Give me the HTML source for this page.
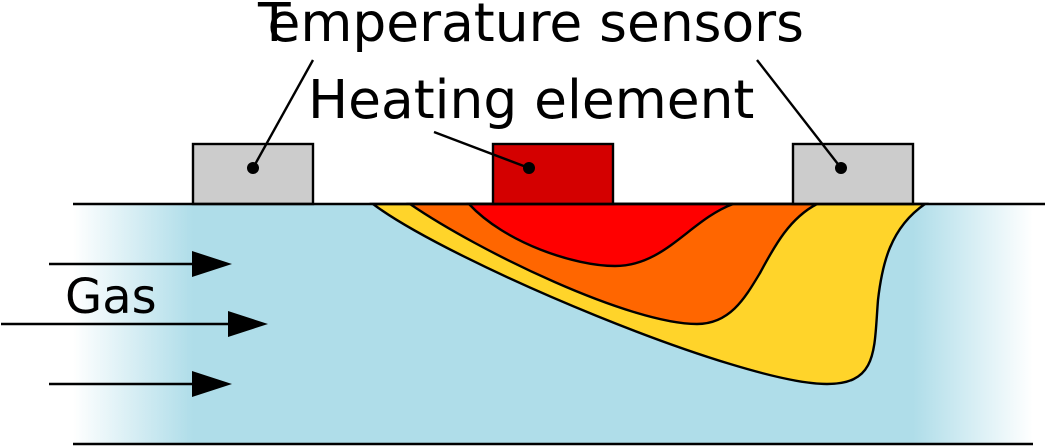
<!DOCTYPE html>
<html>
<head>
<meta charset="utf-8">
<style>
html,body{margin:0;padding:0;background:#fff;width:1045px;height:446px;overflow:hidden}
svg{display:block}
text{font-family:"DejaVu Sans",sans-serif;fill:#000}
</style>
</head>
<body>
<svg width="1045" height="446" viewBox="0 0 1045 446" xmlns="http://www.w3.org/2000/svg">
<defs>
<linearGradient id="gl" x1="0" x2="1" y1="0" y2="0"><stop offset="0" stop-color="#afdde9" stop-opacity="0"/><stop offset="1" stop-color="#afdde9"/></linearGradient>
<linearGradient id="gr" x1="0" x2="1" y1="0" y2="0"><stop offset="0" stop-color="#afdde9"/><stop offset="1" stop-color="#afdde9" stop-opacity="0"/></linearGradient>
</defs>
<rect x="73" y="204" width="120" height="240" fill="url(#gl)"/>
<rect x="193" y="204" width="720" height="240" fill="#afdde9"/>
<rect x="913" y="204" width="120" height="240" fill="url(#gr)"/>
<g stroke="#000" stroke-width="2.4">
<path d="M373,204 C450,262 740,384 827,384 C878,384 874,350 878,300 C882,265 890,228 925,204 Z" fill="#ffd42a"/>
<path d="M410,204 C480,252 630,324 697,324 C730,324 745,298 760,273 C775,245 790,218 817,204 Z" fill="#ff6600"/>
<path d="M469,204 C505,243 575,266 615,266 C665,266 690,220 733,204 Z" fill="#ff0000"/>
<rect x="193" y="144" width="120" height="60" fill="#cccccc"/>
<rect x="493" y="144" width="120" height="60" fill="#d40000"/>
<rect x="793" y="144" width="120" height="60" fill="#cccccc"/>
<line x1="73" y1="204" x2="1045" y2="204"/>
<line x1="73" y1="444" x2="1033" y2="444"/>
<line x1="313" y1="60" x2="253" y2="168"/>
<line x1="434" y1="132" x2="529" y2="168"/>
<line x1="757" y1="60" x2="841" y2="168"/>
<line x1="49" y1="264" x2="195" y2="264"/>
<line x1="1" y1="324" x2="231" y2="324"/>
<line x1="49" y1="384" x2="195" y2="384"/>
</g>
<circle cx="253" cy="168" r="6"/>
<circle cx="529" cy="168" r="6"/>
<circle cx="841" cy="168" r="6"/>
<path d="M192,251 L232,264 L192,277 Z"/>
<path d="M228,311 L268,324 L228,337 Z"/>
<path d="M192,371 L232,384 L192,397 Z"/>
<text x="258" y="41" font-size="53.4"><tspan>T</tspan><tspan dx="-14">emperature sensors</tspan></text>
<text x="308" y="118" font-size="53.4">Heating element</text>
<text x="65" y="313" font-size="48">Gas</text>
</svg>
</body>
</html>
